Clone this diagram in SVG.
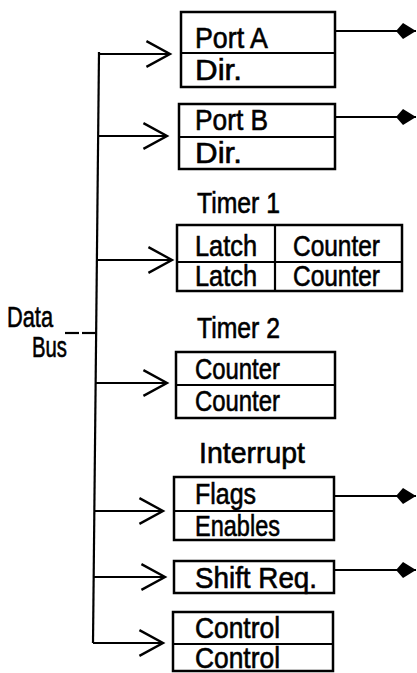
<svg xmlns="http://www.w3.org/2000/svg" width="417" height="673" viewBox="0 0 417 673">
<style>
.box{fill:none;stroke:#000;stroke-width:2.5}
.ln{fill:none;stroke:#000;stroke-width:2.2}
.wire{fill:none;stroke:#000;stroke-width:2.2}
text{font-family:"Liberation Sans","DejaVu Sans",sans-serif;font-size:29px;fill:#000;stroke:#000;stroke-width:0.6}
</style>
<defs>
<marker id="open" markerUnits="userSpaceOnUse" markerWidth="30" markerHeight="30" viewBox="-24 -14 28 28" refX="0" refY="0" orient="auto">
<path d="M-22,-12 L0,0 L-22,12" fill="none" stroke="#000" stroke-width="2.2"/>
</marker>
<marker id="solid" markerUnits="userSpaceOnUse" markerWidth="22" markerHeight="20" viewBox="-21 -10 22 20" refX="0" refY="0" orient="auto">
<path d="M-20,0 L-13,-8 L0,0 L-13,8 Z" fill="#000"/>
</marker>
</defs>
<rect width="417" height="673" fill="#fff"/>
<g id="connectors">
<path class="wire" d="M99,52 L93,643"/>
<path class="wire" d="M99,54 L170,54" marker-end="url(#open)"/>
<path class="wire" d="M98,136 L167,136" marker-end="url(#open)"/>
<path class="wire" d="M97,260 L172,260" marker-end="url(#open)"/>
<path class="wire" d="M96,383 L167,383" marker-end="url(#open)"/>
<path class="wire" d="M94,511 L163,511" marker-end="url(#open)"/>
<path class="wire" d="M94,577 L165,577" marker-end="url(#open)"/>
<path class="wire" d="M93,643 L163,643" marker-end="url(#open)"/>
<path class="wire" d="M335,31 L416,31" marker-end="url(#solid)"/>
<path class="wire" d="M335,117 L416,117" marker-end="url(#solid)"/>
<path class="wire" d="M334,496 L416,496" marker-end="url(#solid)"/>
<path class="wire" d="M334,570 L416,570" marker-end="url(#solid)"/>
<path class="wire" d="M65,333 L79,333"/>
<path class="wire" d="M82,333 L96,333" stroke-width="3"/>
</g>
<g id="databus">
<text x="7" y="327" textLength="46" lengthAdjust="spacingAndGlyphs">Data</text>
<text x="32" y="357" textLength="35" lengthAdjust="spacingAndGlyphs">Bus</text>
</g>
<g id="portA">
<rect class="box" x="181" y="12" width="154" height="75"/>
<line class="ln" x1="181" y1="53" x2="335" y2="53"/>
<text x="195" y="48" textLength="73" lengthAdjust="spacingAndGlyphs">Port A</text>
<text x="195" y="80" textLength="47" lengthAdjust="spacingAndGlyphs">Dir.</text>
</g>
<g id="portB">
<rect class="box" x="179" y="104" width="156" height="65"/>
<line class="ln" x1="179" y1="137" x2="335" y2="137"/>
<text x="195" y="130" textLength="73" lengthAdjust="spacingAndGlyphs">Port B</text>
<text x="195" y="163" textLength="47" lengthAdjust="spacingAndGlyphs">Dir.</text>
</g>
<g id="timer1">
<text x="197" y="213" textLength="83" lengthAdjust="spacingAndGlyphs">Timer 1</text>
<rect class="box" x="177" y="225" width="225" height="66"/>
<line class="ln" x1="177" y1="262" x2="402" y2="262"/>
<line class="ln" x1="275" y1="225" x2="275" y2="291"/>
<text x="195" y="256" textLength="62" lengthAdjust="spacingAndGlyphs">Latch</text>
<text x="293" y="256" textLength="87" lengthAdjust="spacingAndGlyphs">Counter</text>
<text x="195" y="286" textLength="62" lengthAdjust="spacingAndGlyphs">Latch</text>
<text x="293" y="286" textLength="87" lengthAdjust="spacingAndGlyphs">Counter</text>
</g>
<g id="timer2">
<text x="197" y="338" textLength="83" lengthAdjust="spacingAndGlyphs">Timer 2</text>
<rect class="box" x="176" y="352" width="159" height="66"/>
<line class="ln" x1="176" y1="385" x2="335" y2="385"/>
<text x="195" y="379" textLength="85" lengthAdjust="spacingAndGlyphs">Counter</text>
<text x="195" y="411" textLength="85" lengthAdjust="spacingAndGlyphs">Counter</text>
</g>
<g id="interrupt">
<text x="199" y="463" textLength="106" lengthAdjust="spacingAndGlyphs">Interrupt</text>
<rect class="box" x="174" y="477" width="160" height="63"/>
<line class="ln" x1="174" y1="511" x2="334" y2="511"/>
<text x="195" y="504" textLength="61" lengthAdjust="spacingAndGlyphs">Flags</text>
<text x="195" y="536" textLength="85" lengthAdjust="spacingAndGlyphs">Enables</text>
</g>
<g id="shiftreg">
<rect class="box" x="174" y="561" width="160" height="32"/>
<text x="195" y="588" textLength="122" lengthAdjust="spacingAndGlyphs">Shift Req.</text>
</g>
<g id="control">
<rect class="box" x="173" y="612" width="160" height="59"/>
<line class="ln" x1="173" y1="644" x2="333" y2="644"/>
<text x="195" y="638" textLength="85" lengthAdjust="spacingAndGlyphs">Control</text>
<text x="195" y="668" textLength="85" lengthAdjust="spacingAndGlyphs">Control</text>
</g>
</svg>
